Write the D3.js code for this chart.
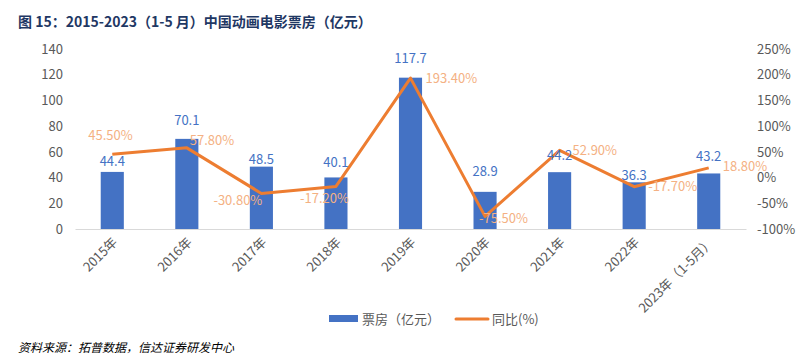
<!DOCTYPE html>
<html><head><meta charset="utf-8">
<script src="https://cdn.jsdelivr.net/npm/d3@7/dist/d3.min.js"></script>
<style>body{margin:0;background:#fff}svg{display:block}</style>
</head><body>
<svg id="c" width="810" height="356"></svg>
<script>
const categories = ["2015年","2016年","2017年","2018年","2019年","2020年","2021年","2022年","2023年（1-5月）"];
const boxOffice = [44.4, 70.1, 48.5, 40.1, 117.7, 28.9, 44.2, 36.3, 43.2];
const yoy = [45.5, 57.8, -30.8, -17.2, 193.4, -75.5, 52.9, -17.7, 18.8];
const leftTicks = [0,20,40,60,80,100,120,140];
const rightTicks = [-100,-50,0,50,100,150,200,250];
const seriesNames = ["票房（亿元）","同比(%)"];
const titleText = "图 15：2015-2023（1-5 月）中国动画电影票房（亿元）";
const sourceText = "资料来源：拓普数据，信达证券研发中心";

const svg = d3.select("#c");
const font = "'Noto Sans CJK SC','Noto Sans',sans-serif";
const L = 75, R = 746, T = 49, B = 229;
const x = d3.scaleBand().domain(categories).range([L, R]).paddingInner(0.69).paddingOuter(0.345);
const y = d3.scaleLinear().domain([0,140]).range([B,T]);
const y2 = d3.scaleLinear().domain([-100,250]).range([B,T]);
const cx = d => x(d) + x.bandwidth()/2;

// title
svg.append("text").attr("x",18).attr("y",27).attr("font-family",font).attr("font-weight","bold")
  .attr("font-size",14).attr("fill","#1F3864").text(titleText);

// left axis
const gl = svg.append("g").attr("transform",`translate(${L},0)`)
  .call(d3.axisLeft(y).tickValues(leftTicks).tickSize(0).tickPadding(12));
gl.select(".domain").remove();
gl.selectAll("text").attr("font-family",font).attr("font-size",13).attr("fill","#595959");

// right axis
const gr = svg.append("g").attr("transform",`translate(${R},0)`)
  .call(d3.axisRight(y2).tickValues(rightTicks).tickSize(0).tickPadding(11).tickFormat(d=>d+"%"));
gr.select(".domain").remove();
gr.selectAll("text").attr("font-family",font).attr("font-size",13).attr("fill","#595959");

// bars
svg.append("g").selectAll("rect").data(boxOffice).join("rect")
  .attr("x",(d,i)=>x(categories[i])).attr("width",x.bandwidth())
  .attr("y",d=>y(d)).attr("height",d=>B-y(d)).attr("fill","#4472C4");

// baseline axis
const gb = svg.append("g").attr("transform",`translate(0,${B})`)
  .call(d3.axisBottom(x).tickSize(0).tickPadding(0));
gb.select(".domain").attr("stroke","#D9D9D9").attr("stroke-width",1);
gb.selectAll("text").attr("font-family",font).attr("font-size",13).attr("fill","#595959")
  .attr("text-anchor","end").attr("dy",0)
  .attr("transform","translate(6,14) rotate(-45)");

// line
const line = d3.line().x((d,i)=>cx(categories[i])).y(d=>y2(d));
svg.append("path").datum(yoy).attr("d",line).attr("fill","none")
  .attr("stroke","#ED7D31").attr("stroke-width",3).attr("stroke-linejoin","round");

// bar labels
const barDy = [-10,-18,-7,-15,-19,-20,-17,-7,-17];
svg.append("g").selectAll("text").data(boxOffice).join("text")
  .attr("x",(d,i)=>cx(categories[i])).attr("y",(d,i)=>y(d)+barDy[i])
  .attr("dy","0.35em").attr("text-anchor","middle")
  .attr("font-family",font).attr("font-size",13).attr("fill","#4472C4")
  .text(d=>d.toFixed(1));

// line labels (offsets relative to point: left edge dx, center dy)
const lblPos = [[-24,-19],[3,-7],[-48,7],[-36,12],[15,0],[-6,2],[13,0],[14,0],[14,-1]];
svg.append("g").selectAll("text").data(yoy).join("text")
  .attr("x",(d,i)=>cx(categories[i])+lblPos[i][0]).attr("y",(d,i)=>y2(d)+lblPos[i][1])
  .attr("dy","0.35em").attr("text-anchor","start")
  .attr("font-family",font).attr("font-size",13).attr("fill","#F4B183")
  .text(d=>d.toFixed(2)+"%");

// legend
const lg = svg.append("g");
lg.append("rect").attr("x",329).attr("y",315).attr("width",29).attr("height",7).attr("fill","#4472C4");
lg.append("text").attr("x",362).attr("y",319).attr("dy","0.35em").attr("font-family",font)
  .attr("font-size",13).attr("fill","#595959").text(seriesNames[0]);
lg.append("line").attr("x1",456).attr("x2",488).attr("y1",319).attr("y2",319)
  .attr("stroke","#ED7D31").attr("stroke-width",3).attr("stroke-linecap","round");
lg.append("text").attr("x",492).attr("y",319).attr("dy","0.35em").attr("font-family",font)
  .attr("font-size",13).attr("fill","#595959").text(seriesNames[1]);

// source
svg.append("text").attr("x",18).attr("y",352).attr("font-family",font).attr("font-style","italic")
  .attr("font-size",12).attr("fill","#000").text(sourceText);
</script>
</body></html>
